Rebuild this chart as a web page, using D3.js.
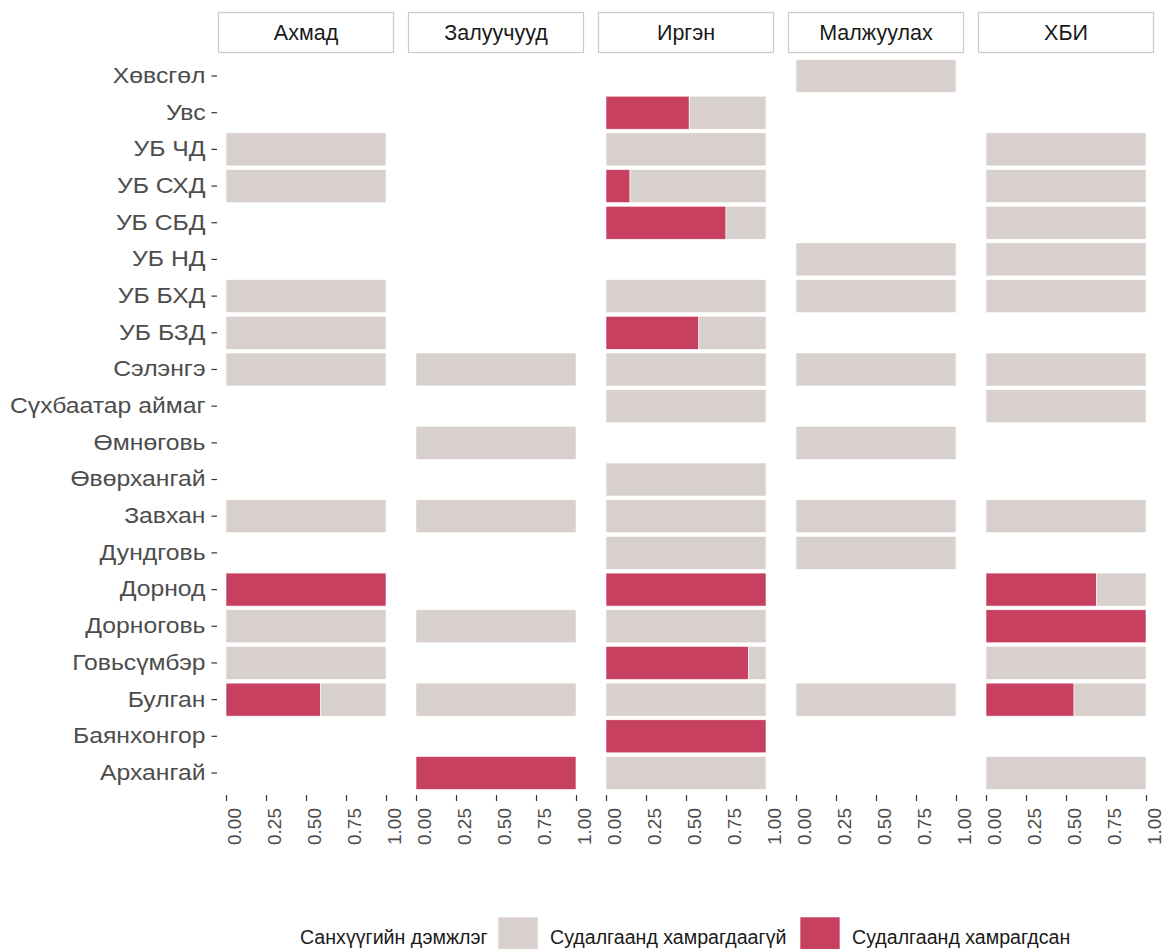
<!DOCTYPE html>
<html>
<head>
<meta charset="utf-8">
<script src="https://cdn.jsdelivr.net/npm/d3@7"></script>
<style>
  body { margin: 0; background: #fff; }
  svg { display: block; font-family: "Liberation Sans", Arial, sans-serif; }
  .axis path { display: none; }
  .axis line { stroke: #333; stroke-width: 1.2; }
  .axis text { fill: #4d4d4d; font-size: 19px; }
  .axis.y text { font-size: 21.5px; }
</style>
</head>
<body>
<svg width="1162" height="949"></svg>
<script>
var svg = d3.select('svg');

// facets and regions
var facets = ['Ахмад', 'Залуучууд', 'Иргэн', 'Малжуулах', 'ХБИ'];
var regions = ['Хөвсгөл', 'Увс', 'УБ ЧД', 'УБ СХД', 'УБ СБД', 'УБ НД', 'УБ БХД', 'УБ БЗД',
  'Сэлэнгэ', 'Сүхбаатар аймаг', 'Өмнөговь', 'Өвөрхангай', 'Завхан', 'Дундговь',
  'Дорнод', 'Дорноговь', 'Говьсүмбэр', 'Булган', 'Баянхонгор', 'Архангай'];

// share of "covered" per region, null = region absent in that facet
var akhmad     = [null, null, 0, 0, null, null, 0, 0, 0, null, null, null, 0, null, 1, 0, 0, 0.59, null, null];
var zaluuchuud = [null, null, null, null, null, null, null, null, 0, null, 0, null, 0, null, null, 0, null, 0, null, 1];
var irgen      = [null, 0.52, 0, 0.15, 0.75, null, 0, 0.58, 0, 0, null, 0, 0, 0, 1, 0, 0.89, 0, 1, 0];
var malzhuulah = [0, null, null, null, null, 0, 0, null, 0, null, 0, null, 0, 0, null, null, null, 0, null, null];
var khbi       = [null, null, 0, 0, 0, 0, 0, null, 0, 0, null, null, 0, null, 0.69, 1, 0, 0.55, null, 0];
var shares = [akhmad, zaluuchuud, irgen, malzhuulah, khbi];

var legendTitle = 'Санхүүгийн дэмжлэг';
var fillLabels = ['Судалгаанд хамрагдаагүй', 'Судалгаанд хамрагдсан'];
var fillColors = ['#d8d0cd', '#c8405f'];

var ticks = [0, 0.25, 0.5, 0.75, 1];

// layout
var panelLeft = 218, panelW = 176, panelGap = 14;
var panelTop = 54, panelBottom = 795;
var stripTop = 12, stripH = 40;

var y = d3.scaleBand().domain(regions)
    .range([panelTop, panelBottom])
    .paddingInner(0.1).paddingOuter(0.15);

// y axis (labels on the left), glyphs a bit wider as in the source
svg.append('g')
    .attr('class', 'axis y')
    .attr('transform', 'translate(' + (panelLeft - 1) + ',0)')
    .call(d3.axisLeft(y).tickSize(5.5).tickPadding(6))
    .selectAll('.tick text')
    .each(function () {
      var w = this.getComputedTextLength();
      d3.select(this).attr('textLength', w * 1.15).attr('lengthAdjust', 'spacingAndGlyphs');
    });

facets.forEach(function (name, i) {
  var x0 = panelLeft + i * (panelW + panelGap);
  var x = d3.scaleLinear().domain([0, 1]).range([x0 + 8, x0 + panelW - 8]);
  var g = svg.append('g');

  // strip
  g.append('rect')
      .attr('x', x0 + 0.5).attr('y', stripTop + 0.5)
      .attr('width', panelW - 1).attr('height', stripH)
      .attr('fill', '#fff').attr('stroke', '#c9cccc').attr('stroke-width', 1.2);
  g.append('text')
      .attr('x', x0 + panelW / 2).attr('y', stripTop + stripH / 2 + 8)
      .attr('text-anchor', 'middle')
      .attr('fill', '#1a1a1a').style('font-size', '21.5px')
      .text(name);

  // bars: covered part first, remainder after
  var rows = [];
  shares[i].forEach(function (v, j) {
    if (v === null) return;
    if (v > 0) rows.push({region: regions[j], from: 0, to: v, k: 1});
    if (v < 1) rows.push({region: regions[j], from: v, to: 1, k: 0});
  });

  g.selectAll('.bar')
    .data(rows)
    .enter()
    .append('rect')
    .attr('class', 'bar')
    .attr('x', function (d) { return x(d.from); })
    .attr('width', function (d) { return x(d.to) - x(d.from); })
    .attr('y', function (d) { return y(d.region); })
    .attr('height', y.bandwidth())
    .attr('fill', function (d) { return fillColors[d.k]; })
    .attr('stroke', '#fff').attr('stroke-width', 0.6);

  // x axis with rotated labels
  var ax = svg.append('g')
      .attr('class', 'axis')
      .attr('transform', 'translate(0,' + panelBottom + ')')
      .call(d3.axisBottom(x).tickValues(ticks).tickSize(6).tickFormat(d3.format('.2f')));
  ax.selectAll('.tick text')
      .attr('y', 0).attr('dy', null)
      .attr('text-anchor', 'end')
      .attr('transform', 'translate(14,13) rotate(-90)');
});

// legend
var leg = svg.append('g');
leg.append('text')
    .attr('x', 300).attr('y', 944)
    .attr('fill', '#1a1a1a').style('font-size', '19.6px')
    .text(legendTitle);
var keyX = [498, 800];
fillLabels.forEach(function (lab, k) {
  leg.append('rect')
      .attr('x', keyX[k]).attr('y', 917)
      .attr('width', 40).attr('height', 40)
      .attr('fill', fillColors[k]).attr('stroke', '#fff').attr('stroke-width', 0.6);
  leg.append('text')
      .attr('x', keyX[k] + 52).attr('y', 944)
      .attr('fill', '#1a1a1a').style('font-size', '19.6px')
      .text(lab);
});
</script>
</body>
</html>
